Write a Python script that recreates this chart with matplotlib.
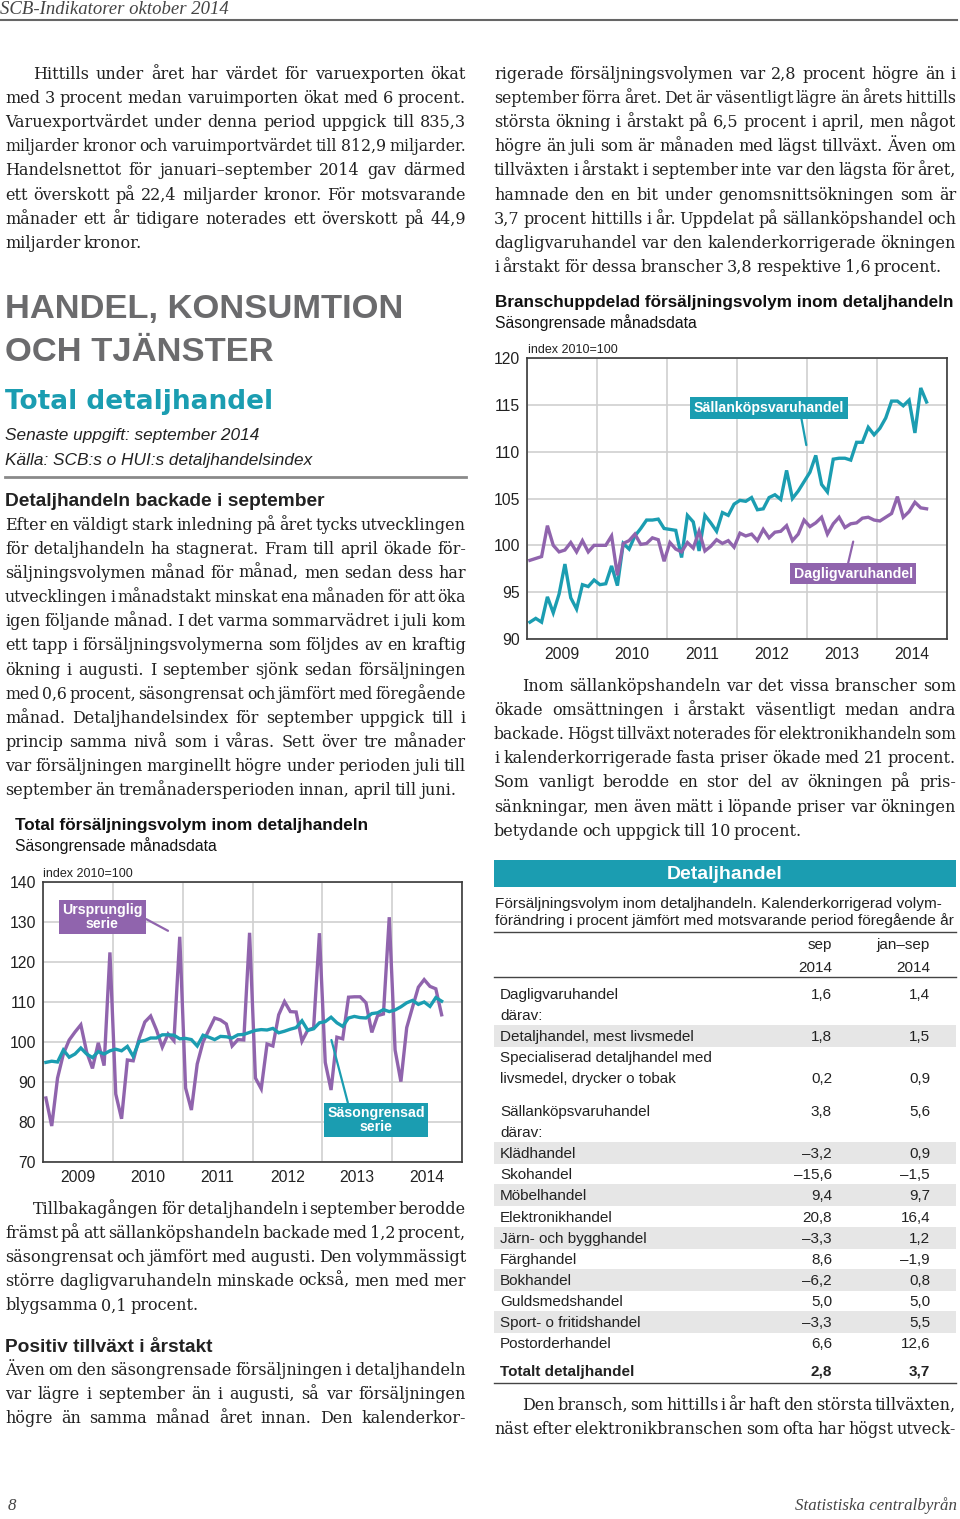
"""
Sida ur SCB-Indikatorer oktober 2014: detaljhandel, text, två indexdiagram och en tabell.
"""
import numpy as np
import matplotlib
matplotlib.use('Agg')
import matplotlib.pyplot as plt
from matplotlib.lines import Line2D
from matplotlib.patches import Rectangle

# --- data -----------------------------------------------------------------
years = [2009, 2010, 2011, 2012, 2013, 2014]

ursprunglig = [86.0, 79.0, 91.0, 97.0, 100.5, 102.5, 104.3, 97.5, 93.4, 99.8, 94.1, 122.4,
               87.0, 80.8, 95.5, 95.3, 100.8, 105.0, 106.5, 103.0, 98.7, 102.0, 100.3, 126.3,
               88.5, 83.0, 94.5, 100.0, 103.0, 106.0, 105.5, 104.5, 99.0, 100.6, 100.5, 127.3,
               91.0, 88.3, 99.5, 99.0, 106.8, 110.1, 107.6, 107.5, 100.2, 103.0, 103.5, 127.2,
               94.9, 88.0, 101.2, 100.8, 111.2, 111.3, 111.3, 109.8, 102.4, 106.6, 107.0, 131.2,
               98.0, 90.1, 103.6, 108.7, 113.7, 115.6, 113.9, 113.3, 106.8]
sasongrensad = [94.9, 95.2, 95.0, 98.0, 96.2, 97.0, 98.5, 97.0, 96.1, 97.6, 97.0, 97.8,
                98.2, 97.8, 98.9, 96.4, 100.1, 100.4, 101.0, 101.0, 101.8, 101.8, 101.7, 100.8,
                100.9, 100.6, 99.0, 101.7, 101.2, 100.6, 101.4, 101.3, 101.0, 101.8, 101.9, 102.4,
                102.9, 103.1, 103.0, 103.4, 102.3, 102.7, 103.2, 103.6, 105.3, 102.9, 103.3, 104.8,
                105.1, 106.2, 104.8, 103.9, 106.0, 106.4, 106.1, 106.0, 107.1, 107.3, 108.1, 107.6,
                108.0, 108.8, 109.8, 110.4, 109.4, 110.0, 108.9, 111.1, 110.2]

sallankop = [91.8, 92.2, 91.8, 94.5, 92.8, 94.8, 98.0, 94.4, 93.2, 95.8, 95.6, 96.3,
             95.8, 95.9, 97.8, 95.7, 100.2, 99.6, 101.0, 101.8, 102.7, 102.7, 102.8, 101.8,
             101.7, 101.6, 98.7, 103.2, 102.5, 99.4, 103.2, 102.4, 101.5, 103.5, 103.2, 104.4,
             104.8, 104.7, 105.1, 103.8, 103.9, 105.1, 105.4, 104.9, 108.0, 105.0, 105.8, 106.8,
             107.8, 109.6, 106.5, 105.7, 109.2, 109.3, 109.3, 109.1, 111.0, 111.0, 112.6, 111.8,
             112.5, 113.6, 115.4, 115.4, 114.9, 115.5, 112.0, 116.8, 115.3]
dagligvaror = [98.4, 98.6, 98.8, 102.1, 100.0, 99.3, 99.5, 100.3, 99.3, 100.5, 99.3, 100.0,
               100.0, 100.0, 101.0, 96.8, 100.2, 100.5, 101.2, 100.1, 100.2, 100.8, 100.6, 98.3,
               100.3, 99.6, 99.3, 100.3, 99.7, 101.5, 99.4, 99.9, 100.6, 100.2, 100.5, 99.8,
               101.3, 101.0, 101.2, 100.5, 101.7, 100.8, 101.4, 101.5, 102.1, 100.5, 101.2, 102.7,
               102.0, 102.4, 103.0, 101.2, 102.3, 103.0, 101.9, 102.3, 102.4, 102.9, 103.0, 102.7,
               102.6, 103.0, 103.4, 105.2, 103.0, 103.6, 104.6, 104.0, 103.9]

tab_rows = ["Dagligvaruhandel", "därav:", "Detaljhandel, mest livsmedel",
            "Specialiserad detaljhandel med", "livsmedel, drycker o tobak",
            "Sällanköpsvaruhandel", "därav:", "Klädhandel", "Skohandel", "Möbelhandel",
            "Elektronikhandel", "Järn- och bygghandel", "Färghandel", "Bokhandel",
            "Guldsmedshandel", "Sport- o fritidshandel", "Postorderhandel", "Totalt detaljhandel"]
tab_sep = ["1,6", "", "1,8", "", "0,2", "3,8", "", "–3,2", "–15,6", "9,4", "20,8", "–3,3",
           "8,6", "–6,2", "5,0", "–3,3", "6,6", "2,8"]
tab_jansep = ["1,4", "", "1,5", "", "0,9", "5,6", "", "0,9", "–1,5", "9,7", "16,4", "1,2",
              "–1,9", "0,8", "5,0", "5,5", "12,6", "3,7"]

par_left1 = ["Hittills under året har värdet för varuexporten ökat",
             "med 3 procent medan varuimporten ökat med 6 procent.",
             "Varuexportvärdet under denna period uppgick till 835,3",
             "miljarder kronor och varuimportvärdet till 812,9 miljarder.",
             "Handelsnettot för januari–september 2014 gav därmed",
             "ett överskott på 22,4 miljarder kronor. För motsvarande",
             "månader ett år tidigare noterades ett överskott på 44,9",
             "miljarder kronor."]
par_left2 = ["Efter en väldigt stark inledning på året tycks utvecklingen",
             "för detaljhandeln ha stagnerat. Fram till april ökade för-",
             "säljningsvolymen månad för månad, men sedan dess har",
             "utvecklingen i månadstakt minskat ena månaden för att öka",
             "igen följande månad. I det varma sommarvädret i juli kom",
             "ett tapp i försäljningsvolymerna som följdes av en kraftig",
             "ökning i augusti. I september sjönk sedan försäljningen",
             "med 0,6 procent, säsongrensat och jämfört med föregående",
             "månad. Detaljhandelsindex för september uppgick till i",
             "princip samma nivå som i våras. Sett över tre månader",
             "var försäljningen marginellt högre under perioden juli till",
             "september än tremånadersperioden innan, april till juni."]
par_left3 = ["Tillbakagången för detaljhandeln i september berodde",
             "främst på att sällanköpshandeln backade med 1,2 procent,",
             "säsongrensat och jämfört med augusti. Den volymmässigt",
             "större dagligvaruhandeln minskade också, men med mer",
             "blygsamma 0,1 procent."]
par_left4 = ["Även om den säsongrensade försäljningen i detaljhandeln",
             "var lägre i september än i augusti, så var försäljningen",
             "högre än samma månad året innan. Den kalenderkor-"]
par_right1 = ["rigerade försäljningsvolymen var 2,8 procent högre än i",
              "september förra året. Det är väsentligt lägre än årets hittills",
              "största ökning i årstakt på 6,5 procent i april, men något",
              "högre än juli som är månaden med lägst tillväxt. Även om",
              "tillväxten i årstakt i september inte var den lägsta för året,",
              "hamnade den en bit under genomsnittsökningen som är",
              "3,7 procent hittills i år. Uppdelat på sällanköpshandel och",
              "dagligvaruhandel var den kalenderkorrigerade ökningen",
              "i årstakt för dessa branscher 3,8 respektive 1,6 procent."]
par_right2 = ["Inom sällanköpshandeln var det vissa branscher som",
              "ökade omsättningen i årstakt väsentligt medan andra",
              "backade. Högst tillväxt noterades för elektronikhandeln som",
              "i kalenderkorrigerade fasta priser ökade med 21 procent.",
              "Som vanligt berodde en stor del av ökningen på pris-",
              "sänkningar, men även mätt i löpande priser var ökningen",
              "betydande och uppgick till 10 procent."]
par_right3 = ["Den bransch, som hittills i år haft den största tillväxten,",
              "näst efter elektronikbranschen som ofta har högst utveck-"]

# --- stil -----------------------------------------------------------------
PURPLE = '#9064ad'
TEAL = '#1b9db1'
GREY_HEAD = '#6b6b6d'
TXT = '#222222'
SERIF = 'DejaVu Serif'
SANS = 'Liberation Sans'
BODY_SIZE = 11.5

W, H = 960, 1519
fig = plt.figure(figsize=(W / 100, H / 100), dpi=100)
renderer = fig.canvas.get_renderer()


def fx(x):
    return x / W


def fy(y):
    return 1 - y / H


def put(x, y, s, **kw):
    kw.setdefault('color', TXT)
    return fig.text(fx(x), fy(y), s, va='baseline', **kw)


def hline(x0, x1, y, color='#444444', lw=1.0):
    fig.add_artist(Line2D([fx(x0), fx(x1)], [fy(y), fy(y)], transform=fig.transFigure,
                          color=color, lw=lw))


def box(x0, y0, x1, y1, color):
    fig.add_artist(Rectangle((fx(x0), fy(y1)), (x1 - x0) / W, (y1 - y0) / H,
                             transform=fig.transFigure, color=color, lw=0, zorder=0))


def paragraph(lines, x0, x1, y0, indent=0, justify_last=False, step=24.1):
    # radvis marginaljustering: varje ord placeras för sig
    for i, line in enumerate(lines):
        y = y0 + i * step
        left = x0 + (indent if i == 0 else 0)
        words = line.split(' ')
        last = i == len(lines) - 1 and not justify_last
        size = BODY_SIZE
        while True:
            ts = [put(left, y, w, family=SERIF, fontsize=size) for w in words]
            ws = [t.get_window_extent(renderer).width for t in ts]
            gap = (x1 - left - sum(ws)) / max(len(words) - 1, 1)
            if gap >= 2 or size < 9:
                break
            for t in ts:
                t.remove()
            size *= 0.99
        if last:
            gap = min(gap, 3.6)
        x = left
        for t, w in zip(ts, ws):
            t.set_x(fx(x))
            x += w + gap


# --- sidhuvud/fot ---------------------------------------------------------
put(0, 14, "SCB-Indikatorer oktober 2014", family='Liberation Serif', style='italic',
    fontsize=13.5, color='#444444')
hline(0, 957, 19.5, color='#666666', lw=1.5)
put(8, 1510, "8", family='Liberation Serif', style='italic', fontsize=12.2, color='#444444')
put(957, 1510, "Statistiska centralbyrån", family='Liberation Serif', style='italic',
    fontsize=12.2, color='#444444', ha='right')

# --- vänster spalt --------------------------------------------------------
paragraph(par_left1, 5, 466, 79, indent=28)
put(5, 318, "HANDEL, KONSUMTION", family=SANS, weight='bold', fontsize=24.8, color=GREY_HEAD)
put(5, 361, "OCH TJÄNSTER", family=SANS, weight='bold', fontsize=24.8, color=GREY_HEAD)
put(5, 409, "Total detaljhandel", family='DejaVu Sans', weight='bold', fontsize=19,
    color=TEAL)
put(5, 440, "Senaste uppgift: september 2014", family=SANS, style='italic', fontsize=12.4)
put(5, 465, "Källa: SCB:s o HUI:s detaljhandelsindex", family=SANS, style='italic',
    fontsize=12.4)
hline(5, 466, 477, color='#8a8a8a', lw=2)
put(5, 506, "Detaljhandeln backade i september", family=SANS, weight='bold', fontsize=13.8)
paragraph(par_left2, 5, 466, 530)
put(15, 830, "Total försäljningsvolym inom detaljhandeln", family=SANS, weight='bold',
    fontsize=12.3, color='#111111')
put(15, 851, "Säsongrensade månadsdata", family=SANS, fontsize=11.3, color='#111111')
paragraph(par_left3, 5, 466, 1214, indent=28)
put(5, 1352, "Positiv tillväxt i årstakt", family=SANS, weight='bold', fontsize=13.8)
paragraph(par_left4, 5, 466, 1375, justify_last=True)

# --- höger spalt ----------------------------------------------------------
paragraph(par_right1, 494, 956, 79)
put(495, 307, "Branschuppdelad försäljningsvolym inom detaljhandeln", family=SANS,
    weight='bold', fontsize=12.3, color='#111111')
put(495, 328, "Säsongrensade månadsdata", family=SANS, fontsize=11.3, color='#111111')
paragraph(par_right2, 494, 956, 691, indent=28)
paragraph(par_right3, 494, 956, 1410, indent=28, justify_last=True)

# --- diagram --------------------------------------------------------------
months = years[0] + (np.arange(len(ursprunglig)) + 0.5) / 12


def index_axes(x0, y0, x1, y1, ylim, ystep):
    ax = fig.add_axes([fx(x0), fy(y1), (x1 - x0) / W, (y1 - y0) / H])
    ax.set_xlim(years[0], years[-1] + 1)
    ax.set_ylim(*ylim)
    ax.set_xticks(range(years[0], years[-1] + 2))
    ax.set_xticklabels([])
    ax.set_xticks([y + 0.5 for y in years], minor=True)
    ax.set_xticklabels([str(y) for y in years], minor=True)
    ax.set_yticks(np.arange(ylim[0], ylim[1] + 1, ystep))
    ax.tick_params(which='both', length=0, labelsize=11.3, colors='#222222')
    ax.tick_params(axis='x', which='minor', pad=6)
    ax.tick_params(axis='y', pad=5)
    for lab in ax.get_xticklabels(minor=True) + ax.get_yticklabels():
        lab.set_family(SANS)
    ax.grid(True, which='major', color='#cfcfcf', lw=1.2)
    ax.set_axisbelow(True)
    for sp in ax.spines.values():
        sp.set_color('#3a3a3a')
        sp.set_linewidth(1.2)
    return ax


def tag(ax, text, color, xy, xytext, relpos):
    ax.annotate(text, xy=xy, xytext=xytext, ha='center', va='center', color='white',
                fontsize=10.2, fontweight='bold', family=SANS, linespacing=0.95,
                bbox=dict(boxstyle='square,pad=0.25', fc=color, ec='none'),
                arrowprops=dict(arrowstyle='-', color=color, lw=1.6, relpos=relpos,
                                shrinkA=0, shrinkB=0))


ax1 = index_axes(43, 882, 462, 1162, (70, 140), 10)
ax1.plot(months, ursprunglig, color=PURPLE, lw=2.4, solid_joinstyle='miter')
ax1.plot(months, sasongrensad, color=TEAL, lw=2.4, solid_joinstyle='miter')
tag(ax1, "Ursprunglig\nserie", PURPLE, (2010.79, 127.8), (2009.85, 131.2), (1, 0.5))
tag(ax1, "Säsongrensad\nserie", TEAL, (2013.13, 100.5), (2013.77, 80.5), (0.22, 1))
put(43, 877, "index 2010=100", family=SANS, fontsize=9, color='#222222')

ax2 = index_axes(527, 358, 947, 639, (90, 120), 5)
ax2.plot(months, sallankop, color=TEAL, lw=2.4, solid_joinstyle='miter')
ax2.plot(months, dagligvaror, color=PURPLE, lw=2.4, solid_joinstyle='miter')
tag(ax2, "Sällanköpsvaruhandel", TEAL, (2012.99, 110.7), (2012.46, 114.66), (0.71, 0))
tag(ax2, "Dagligvaruhandel", PURPLE, (2013.66, 100.4), (2013.66, 96.95), (0.45, 1))
put(528, 353, "index 2010=100", family=SANS, fontsize=9, color='#222222')

# --- tabell ---------------------------------------------------------------
box(494, 860, 956, 887, TEAL)
put(725, 879, "Detaljhandel", family=SANS, weight='bold', fontsize=14, color='white',
    ha='center')
put(495, 908, "Försäljningsvolym inom detaljhandeln. Kalenderkorrigerad volym-",
    family=SANS, fontsize=11.1)
put(495, 925, "förändring i procent jämfört med motsvarande period föregående år",
    family=SANS, fontsize=11.1)
hline(494, 956, 932)
put(832, 949, "sep", family=SANS, fontsize=11, ha='right')
put(930, 949, "jan–sep", family=SANS, fontsize=11, ha='right')
put(832, 972, "2014", family=SANS, fontsize=11, ha='right')
put(930, 972, "2014", family=SANS, fontsize=11, ha='right')
hline(494, 956, 977)

row_y = [999, 1020, 1041, 1062, 1083, 1116, 1137, 1158, 1179, 1200, 1222, 1243,
         1264, 1285, 1306, 1327, 1348, 1376]
shaded = {2, 7, 9, 11, 13, 15}
for i, (name, v1, v2) in enumerate(zip(tab_rows, tab_sep, tab_jansep)):
    y = row_y[i]
    if i in shaded:
        box(494, y - 16, 956, y + 6, '#e6e6e6')
    w = 'bold' if i == len(tab_rows) - 1 else 'normal'
    put(500, y, name, family=SANS, fontsize=11, weight=w)
    put(832, y, v1, family=SANS, fontsize=11, weight=w, ha='right')
    put(930, y, v2, family=SANS, fontsize=11, weight=w, ha='right')
hline(494, 956, 1383)

fig.savefig('out.png', dpi=100)
